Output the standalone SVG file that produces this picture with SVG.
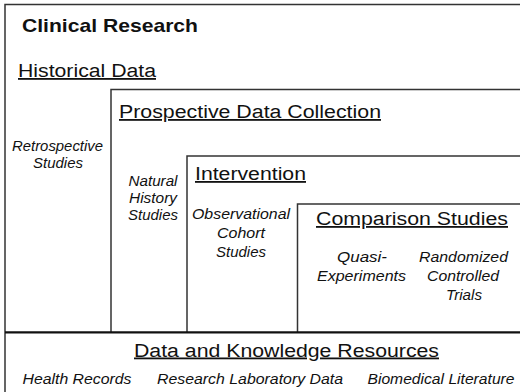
<svg xmlns="http://www.w3.org/2000/svg" width="520" height="392" viewBox="0 0 520 392">
<style>
.frame{fill:none;stroke:#333;stroke-width:1.5}
.title{font-family:"Liberation Sans",Arial,sans-serif;font-size:18px;fill:#111;text-decoration:underline}
.main{font-family:"Liberation Sans",Arial,sans-serif;font-size:19px;font-weight:bold;fill:#111}
.it{font-family:"Liberation Sans",Arial,sans-serif;font-size:14px;font-style:italic;fill:#111;text-anchor:middle}
</style>
<rect width="520" height="392" fill="#fff"/>
<g id="clinical-research">
  <path class="frame" d="M5,392 V4.5 H520" stroke="#555"/>
  <text class="main" x="22" y="31.5" textLength="176" lengthAdjust="spacingAndGlyphs">Clinical Research</text>
</g>
<g id="historical-data">
  <text class="title" x="18" y="77" textLength="138" lengthAdjust="spacingAndGlyphs">Historical Data</text>
  <text class="it" x="57.5" y="151" textLength="91" lengthAdjust="spacingAndGlyphs">Retrospective</text>
  <text class="it" x="58" y="168" textLength="50" lengthAdjust="spacingAndGlyphs">Studies</text>
</g>
<g id="prospective-data-collection">
  <path class="frame" d="M111,332 V89.5 H520"/>
  <text class="title" x="119" y="118" textLength="262" lengthAdjust="spacingAndGlyphs">Prospective Data Collection</text>
  <text class="it" x="153" y="186" textLength="49" lengthAdjust="spacingAndGlyphs">Natural</text>
  <text class="it" x="153" y="203" textLength="48" lengthAdjust="spacingAndGlyphs">History</text>
  <text class="it" x="153" y="220" textLength="50" lengthAdjust="spacingAndGlyphs">Studies</text>
</g>
<g id="intervention">
  <path class="frame" d="M187,332 V156 H520"/>
  <text class="title" x="195" y="180" textLength="111" lengthAdjust="spacingAndGlyphs">Intervention</text>
  <text class="it" x="241" y="219" textLength="98" lengthAdjust="spacingAndGlyphs">Observational</text>
  <text class="it" x="241" y="238" textLength="48" lengthAdjust="spacingAndGlyphs">Cohort</text>
  <text class="it" x="241" y="257" textLength="50" lengthAdjust="spacingAndGlyphs">Studies</text>
</g>
<g id="comparison-studies">
  <path class="frame" d="M297.5,332 V204 H520"/>
  <text class="title" x="316" y="225" textLength="192" lengthAdjust="spacingAndGlyphs">Comparison Studies</text>
  <text class="it" x="362" y="262" textLength="50" lengthAdjust="spacingAndGlyphs">Quasi-</text>
  <text class="it" x="361.5" y="281" textLength="89" lengthAdjust="spacingAndGlyphs">Experiments</text>
  <text class="it" x="463.5" y="262" textLength="89" lengthAdjust="spacingAndGlyphs">Randomized</text>
  <text class="it" x="463" y="281" textLength="72" lengthAdjust="spacingAndGlyphs">Controlled</text>
  <text class="it" x="464" y="300" textLength="36" lengthAdjust="spacingAndGlyphs">Trials</text>
</g>
<g id="data-knowledge-resources">
  <line x1="5" y1="332.3" x2="520" y2="332.3" stroke="#111" stroke-width="2.2"/>
  <text class="title" x="134" y="356.5" textLength="305" lengthAdjust="spacingAndGlyphs">Data and Knowledge Resources</text>
  <text class="it" x="77" y="384" textLength="109" lengthAdjust="spacingAndGlyphs">Health Records</text>
  <text class="it" x="250" y="384" textLength="186" lengthAdjust="spacingAndGlyphs">Research Laboratory Data</text>
  <text class="it" x="441" y="384" textLength="147" lengthAdjust="spacingAndGlyphs">Biomedical Literature</text>
</g>
</svg>
